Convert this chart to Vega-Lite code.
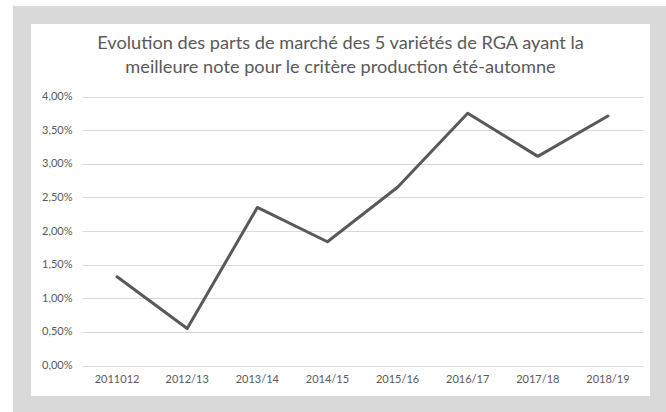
{
  "$schema": "https://vega.github.io/schema/vega-lite/v6.json",
  "width": 637,
  "height": 390,
  "autosize": "none",
  "padding": {"left": 22, "top": 15, "right": 7, "bottom": 7},
  "background": "white",
  "title": {
    "text": ["Evolution des parts de marché des 5 variétés de RGA ayant la", "meilleure note pour le critère production été-automne"],
    "font": "Lato",
    "fontSize": 18.2,
    "fontWeight": "normal",
    "color": "#595959",
    "lineHeight": 24,
    "anchor": "middle",
    "frame": "group",
    "offset": -62
  },
  "data": {
    "values": [
      {"saison": "2011012", "part": 0.0132},
      {"saison": "2012/13", "part": 0.0055},
      {"saison": "2013/14", "part": 0.0235},
      {"saison": "2014/15", "part": 0.0184},
      {"saison": "2015/16", "part": 0.0265},
      {"saison": "2016/17", "part": 0.0375},
      {"saison": "2017/18", "part": 0.0311},
      {"saison": "2018/19", "part": 0.0371}
    ]
  },
  "mark": {"type": "line", "color": "#595959", "strokeWidth": 3, "strokeJoin": "round", "strokeCap": "round"},
  "encoding": {
    "x": {
      "field": "saison",
      "type": "ordinal",
      "sort": null,
      "scale": {"type": "band", "range": [60, 621], "paddingInner": 0, "paddingOuter": 0},
      "axis": {
        "title": null,
        "orient": "bottom",
        "offset": -39.5,
        "labelPadding": 8,
        "ticks": false,
        "domain": false,
        "grid": false,
        "labelAngle": 0,
        "labelFont": "Lato",
        "labelFontSize": 11,
        "labelColor": "#595959"
      }
    },
    "y": {
      "field": "part",
      "type": "quantitative",
      "scale": {"domain": [0, 0.04], "range": [350.5, 81.5], "nice": false, "zero": false},
      "axis": {
        "title": null,
        "orient": "left",
        "offset": -55,
        "labelPadding": 5,
        "ticks": false,
        "domain": false,
        "grid": true,
        "gridColor": "#d9d9d9",
        "gridWidth": 1,
        "values": [0, 0.005, 0.01, 0.015, 0.02, 0.025, 0.03, 0.035, 0.04],
        "labelExpr": "replace(format(datum.value, '.2%'), '.', ',')",
        "labelFont": "Lato",
        "labelFontSize": 11,
        "labelColor": "#595959"
      }
    }
  },
  "config": {
    "view": {"fill": "white", "stroke": "#d9d9d9", "strokeWidth": 18}
  }
}
